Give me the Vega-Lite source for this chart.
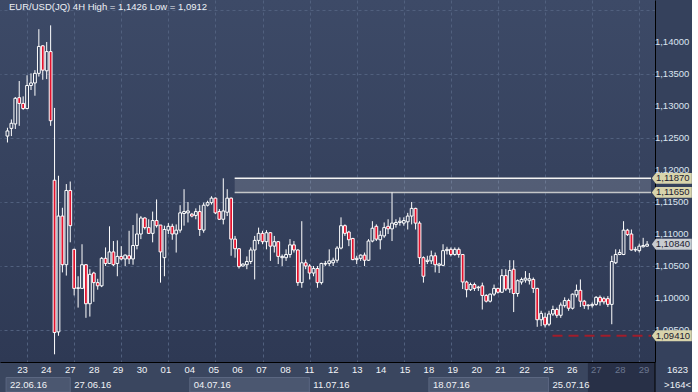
{
"$schema":"https://vega.github.io/schema/vega-lite/v6.json",
"background":"#35415c",
"padding":0,
"spacing":0,
"resolve":{"scale":{"x":"independent","y":"independent"}},
"config":{
  "locale":{"number":{"decimal":",","thousands":".","grouping":[3],"currency":["",""]}},
  "font":"Liberation Sans",
  "view":{"stroke":null},
  "axis":{"labelOverlap":false},
  "text":{"font":"Liberation Sans","fontSize":9.5}
},
"datasets":{
"candles":[
{"i":0,"o":1.1253,"h":1.1266,"l":1.1243,"c":1.1261},
{"i":1,"o":1.1265,"h":1.1279,"l":1.1253,"c":1.1273},
{"i":2,"o":1.1272,"h":1.1314,"l":1.1264,"c":1.1312},
{"i":3,"o":1.1313,"h":1.1339,"l":1.1269,"c":1.1304},
{"i":4,"o":1.1304,"h":1.1315,"l":1.1294,"c":1.1296},
{"i":5,"o":1.1296,"h":1.1348,"l":1.1295,"c":1.1332},
{"i":6,"o":1.1332,"h":1.1351,"l":1.1325,"c":1.1336},
{"i":7,"o":1.1336,"h":1.1356,"l":1.1316,"c":1.1351},
{"i":8,"o":1.1351,"h":1.1420,"l":1.1346,"c":1.1393},
{"i":9,"o":1.1394,"h":1.1395,"l":1.1341,"c":1.1356},
{"i":10,"o":1.1355,"h":1.1400,"l":1.1342,"c":1.1385},
{"i":11,"o":1.1385,"h":1.1426,"l":1.1269,"c":1.1277},
{"i":12,"o":1.1184,"h":1.1297,"l":1.0912,"c":1.0946},
{"i":13,"o":1.0947,"h":1.1191,"l":1.0941,"c":1.1128},
{"i":14,"o":1.1128,"h":1.1141,"l":1.1040,"c":1.1052},
{"i":15,"o":1.1052,"h":1.1178,"l":1.1035,"c":1.1168},
{"i":16,"o":1.1168,"h":1.1182,"l":1.1087,"c":1.1113},
{"i":17,"o":1.1076,"h":1.1077,"l":1.1004,"c":1.1015},
{"i":18,"o":1.1015,"h":1.1034,"l":1.0985,"c":1.1016},
{"i":19,"o":1.1015,"h":1.1084,"l":1.1014,"c":1.1052},
{"i":20,"o":1.1052,"h":1.1053,"l":1.0969,"c":1.0991},
{"i":21,"o":1.0991,"h":1.1045,"l":1.0971,"c":1.1037},
{"i":22,"o":1.1039,"h":1.1041,"l":1.0994,"c":1.1024},
{"i":23,"o":1.1024,"h":1.1030,"l":1.1013,"c":1.1019},
{"i":24,"o":1.1019,"h":1.1064,"l":1.1017,"c":1.1062},
{"i":25,"o":1.1062,"h":1.1079,"l":1.1050,"c":1.1054},
{"i":26,"o":1.1054,"h":1.1112,"l":1.1053,"c":1.1072},
{"i":27,"o":1.1072,"h":1.1089,"l":1.1050,"c":1.1052},
{"i":28,"o":1.1054,"h":1.1090,"l":1.1034,"c":1.1065},
{"i":29,"o":1.1065,"h":1.1081,"l":1.1059,"c":1.1061},
{"i":30,"o":1.1061,"h":1.1068,"l":1.1050,"c":1.1067},
{"i":31,"o":1.1066,"h":1.1105,"l":1.1053,"c":1.1061},
{"i":32,"o":1.1061,"h":1.1114,"l":1.1052,"c":1.1082},
{"i":33,"o":1.1082,"h":1.1132,"l":1.1076,"c":1.1100},
{"i":34,"o":1.1100,"h":1.1128,"l":1.1092,"c":1.1125},
{"i":35,"o":1.1125,"h":1.1126,"l":1.1107,"c":1.1110},
{"i":36,"o":1.1110,"h":1.1123,"l":1.1100,"c":1.1101},
{"i":37,"o":1.1101,"h":1.1135,"l":1.1087,"c":1.1121},
{"i":38,"o":1.1121,"h":1.1154,"l":1.1110,"c":1.1113},
{"i":39,"o":1.1114,"h":1.1114,"l":1.1024,"c":1.1072},
{"i":40,"o":1.1063,"h":1.1113,"l":1.1034,"c":1.1107},
{"i":41,"o":1.1106,"h":1.1117,"l":1.1100,"c":1.1112},
{"i":42,"o":1.1112,"h":1.1116,"l":1.1091,"c":1.1100},
{"i":43,"o":1.1100,"h":1.1115,"l":1.1071,"c":1.1106},
{"i":44,"o":1.1106,"h":1.1145,"l":1.1102,"c":1.1133},
{"i":45,"o":1.1132,"h":1.1170,"l":1.1113,"c":1.1135},
{"i":46,"o":1.1133,"h":1.1150,"l":1.1118,"c":1.1136},
{"i":47,"o":1.1131,"h":1.1133,"l":1.1126,"c":1.1128},
{"i":48,"o":1.1129,"h":1.1140,"l":1.1123,"c":1.1135},
{"i":49,"o":1.1135,"h":1.1145,"l":1.1097,"c":1.1107},
{"i":50,"o":1.1106,"h":1.1149,"l":1.1102,"c":1.1145},
{"i":51,"o":1.1145,"h":1.1152,"l":1.1143,"c":1.1149},
{"i":52,"o":1.1149,"h":1.1159,"l":1.1146,"c":1.1156},
{"i":53,"o":1.1156,"h":1.1157,"l":1.1131,"c":1.1133},
{"i":54,"o":1.1135,"h":1.1139,"l":1.1122,"c":1.1123},
{"i":55,"o":1.1123,"h":1.1187,"l":1.1115,"c":1.1136},
{"i":56,"o":1.1134,"h":1.1170,"l":1.1128,"c":1.1156},
{"i":57,"o":1.1156,"h":1.1157,"l":1.1066,"c":1.1092},
{"i":58,"o":1.1092,"h":1.1097,"l":1.1063,"c":1.1077},
{"i":59,"o":1.1077,"h":1.1078,"l":1.1046,"c":1.1049},
{"i":60,"o":1.1050,"h":1.1054,"l":1.1049,"c":1.1053},
{"i":61,"o":1.1052,"h":1.1065,"l":1.1045,"c":1.1057},
{"i":62,"o":1.1057,"h":1.1079,"l":1.1053,"c":1.1075},
{"i":63,"o":1.1075,"h":1.1097,"l":1.1029,"c":1.1090},
{"i":64,"o":1.1090,"h":1.1110,"l":1.1084,"c":1.1101},
{"i":65,"o":1.1101,"h":1.1105,"l":1.1084,"c":1.1088},
{"i":66,"o":1.1088,"h":1.1106,"l":1.1076,"c":1.1102},
{"i":67,"o":1.1102,"h":1.1103,"l":1.1058,"c":1.1081},
{"i":68,"o":1.1081,"h":1.1097,"l":1.1071,"c":1.1088},
{"i":69,"o":1.1088,"h":1.1089,"l":1.1053,"c":1.1065},
{"i":70,"o":1.1063,"h":1.1068,"l":1.1050,"c":1.1065},
{"i":71,"o":1.1063,"h":1.1076,"l":1.1058,"c":1.1068},
{"i":72,"o":1.1068,"h":1.1092,"l":1.1063,"c":1.1083},
{"i":73,"o":1.1083,"h":1.1089,"l":1.1071,"c":1.1075},
{"i":74,"o":1.1075,"h":1.1076,"l":1.1019,"c":1.1024},
{"i":75,"o":1.1024,"h":1.1120,"l":1.1016,"c":1.1055},
{"i":76,"o":1.1055,"h":1.1060,"l":1.1045,"c":1.1050},
{"i":77,"o":1.1050,"h":1.1053,"l":1.1029,"c":1.1039},
{"i":78,"o":1.1039,"h":1.1050,"l":1.1034,"c":1.1046},
{"i":79,"o":1.1046,"h":1.1050,"l":1.1016,"c":1.1024},
{"i":80,"o":1.1024,"h":1.1055,"l":1.1021,"c":1.1054},
{"i":81,"o":1.1053,"h":1.1058,"l":1.1050,"c":1.1054},
{"i":82,"o":1.1054,"h":1.1076,"l":1.1050,"c":1.1058},
{"i":83,"o":1.1055,"h":1.1063,"l":1.1050,"c":1.1059},
{"i":84,"o":1.1059,"h":1.1081,"l":1.1055,"c":1.1078},
{"i":85,"o":1.1078,"h":1.1126,"l":1.1076,"c":1.1113},
{"i":86,"o":1.1113,"h":1.1115,"l":1.1097,"c":1.1101},
{"i":87,"o":1.1103,"h":1.1105,"l":1.1081,"c":1.1091},
{"i":88,"o":1.1093,"h":1.1094,"l":1.1059,"c":1.1060},
{"i":89,"o":1.1060,"h":1.1066,"l":1.1053,"c":1.1062},
{"i":90,"o":1.1062,"h":1.1068,"l":1.1058,"c":1.1067},
{"i":91,"o":1.1067,"h":1.1071,"l":1.1050,"c":1.1059},
{"i":92,"o":1.1059,"h":1.1092,"l":1.1058,"c":1.1089},
{"i":93,"o":1.1089,"h":1.1120,"l":1.1087,"c":1.1109},
{"i":94,"o":1.1112,"h":1.1115,"l":1.1089,"c":1.1092},
{"i":95,"o":1.1091,"h":1.1105,"l":1.1076,"c":1.1098},
{"i":96,"o":1.1097,"h":1.1118,"l":1.1094,"c":1.1110},
{"i":97,"o":1.1112,"h":1.1123,"l":1.1100,"c":1.1108},
{"i":98,"o":1.1108,"h":1.1165,"l":1.1089,"c":1.1117},
{"i":99,"o":1.1115,"h":1.1123,"l":1.1110,"c":1.1118},
{"i":100,"o":1.1118,"h":1.1126,"l":1.1113,"c":1.1120},
{"i":101,"o":1.1117,"h":1.1126,"l":1.1113,"c":1.1121},
{"i":102,"o":1.1119,"h":1.1133,"l":1.1107,"c":1.1128},
{"i":103,"o":1.1128,"h":1.1150,"l":1.1115,"c":1.1140},
{"i":104,"o":1.1140,"h":1.1141,"l":1.1107,"c":1.1117},
{"i":105,"o":1.1117,"h":1.1120,"l":1.1053,"c":1.1063},
{"i":106,"o":1.1063,"h":1.1065,"l":1.1024,"c":1.1034},
{"i":107,"o":1.1057,"h":1.1066,"l":1.1053,"c":1.1059},
{"i":108,"o":1.1058,"h":1.1074,"l":1.1053,"c":1.1066},
{"i":109,"o":1.1066,"h":1.1071,"l":1.1040,"c":1.1052},
{"i":110,"o":1.1051,"h":1.1055,"l":1.1039,"c":1.1053},
{"i":111,"o":1.1051,"h":1.1084,"l":1.1050,"c":1.1074},
{"i":112,"o":1.1074,"h":1.1080,"l":1.1068,"c":1.1076},
{"i":113,"o":1.1076,"h":1.1079,"l":1.1065,"c":1.1068},
{"i":114,"o":1.1068,"h":1.1079,"l":1.1066,"c":1.1076},
{"i":115,"o":1.1076,"h":1.1079,"l":1.1063,"c":1.1068},
{"i":116,"o":1.1068,"h":1.1068,"l":1.1014,"c":1.1025},
{"i":117,"o":1.1025,"h":1.1027,"l":1.1001,"c":1.1013},
{"i":118,"o":1.1013,"h":1.1024,"l":1.1011,"c":1.1021},
{"i":119,"o":1.1021,"h":1.1024,"l":1.1011,"c":1.1015},
{"i":120,"o":1.1016,"h":1.1019,"l":1.1011,"c":1.1017},
{"i":121,"o":1.1019,"h":1.1024,"l":1.0982,"c":1.1004},
{"i":122,"o":1.1004,"h":1.1006,"l":1.0993,"c":1.0995},
{"i":123,"o":1.0995,"h":1.1007,"l":1.0993,"c":1.1006},
{"i":124,"o":1.1006,"h":1.1021,"l":1.1003,"c":1.1015},
{"i":125,"o":1.1015,"h":1.1016,"l":1.1007,"c":1.1009},
{"i":126,"o":1.1009,"h":1.1045,"l":1.1008,"c":1.1035},
{"i":127,"o":1.1035,"h":1.1045,"l":1.1011,"c":1.1014},
{"i":128,"o":1.1014,"h":1.1059,"l":1.1008,"c":1.1043},
{"i":129,"o":1.1045,"h":1.1059,"l":1.0978,"c":1.1007},
{"i":130,"o":1.1007,"h":1.1029,"l":1.1002,"c":1.1027},
{"i":131,"o":1.1025,"h":1.1032,"l":1.1021,"c":1.1029},
{"i":132,"o":1.1028,"h":1.1042,"l":1.1024,"c":1.1031},
{"i":133,"o":1.1027,"h":1.1039,"l":1.1021,"c":1.1030},
{"i":134,"o":1.1029,"h":1.1032,"l":1.1008,"c":1.1015},
{"i":135,"o":1.1015,"h":1.1016,"l":1.0955,"c":1.0966},
{"i":136,"o":1.0966,"h":1.0980,"l":1.0956,"c":1.0976},
{"i":137,"o":1.0970,"h":1.0977,"l":1.0954,"c":1.0958},
{"i":138,"o":1.0959,"h":1.0980,"l":1.0956,"c":1.0975},
{"i":139,"o":1.0975,"h":1.0988,"l":1.0972,"c":1.0982},
{"i":140,"o":1.0982,"h":1.0985,"l":1.0969,"c":1.0973},
{"i":141,"o":1.0973,"h":1.0993,"l":1.0969,"c":1.0989},
{"i":142,"o":1.0988,"h":1.1001,"l":1.0985,"c":1.0996},
{"i":143,"o":1.0996,"h":1.0999,"l":1.0980,"c":1.0984},
{"i":144,"o":1.0984,"h":1.1007,"l":1.0982,"c":1.1006},
{"i":145,"o":1.1005,"h":1.1021,"l":1.1001,"c":1.1012},
{"i":146,"o":1.1012,"h":1.1029,"l":1.0986,"c":1.0995},
{"i":147,"o":1.0995,"h":1.0997,"l":1.0983,"c":1.0988},
{"i":148,"o":1.0989,"h":1.0990,"l":1.0982,"c":1.0988},
{"i":149,"o":1.0988,"h":1.0993,"l":1.0985,"c":1.0990},
{"i":150,"o":1.0990,"h":1.1003,"l":1.0988,"c":1.1001},
{"i":151,"o":1.1001,"h":1.1004,"l":1.0988,"c":1.0994},
{"i":152,"o":1.0999,"h":1.1002,"l":1.0990,"c":1.0994},
{"i":153,"o":1.0999,"h":1.1003,"l":1.0986,"c":1.0990},
{"i":154,"o":1.0990,"h":1.1066,"l":1.0959,"c":1.1057},
{"i":155,"o":1.1055,"h":1.1076,"l":1.1053,"c":1.1068},
{"i":156,"o":1.1068,"h":1.1076,"l":1.1067,"c":1.1071},
{"i":157,"o":1.1068,"h":1.1120,"l":1.1067,"c":1.1106},
{"i":158,"o":1.1106,"h":1.1108,"l":1.1097,"c":1.1099},
{"i":159,"o":1.1100,"h":1.1107,"l":1.1074,"c":1.1075},
{"i":160,"o":1.1075,"h":1.1080,"l":1.1072,"c":1.1076},
{"i":161,"o":1.1074,"h":1.1085,"l":1.1071,"c":1.1081},
{"i":162,"o":1.1080,"h":1.1094,"l":1.1079,"c":1.1082},
{"i":163,"o":1.1081,"h":1.1089,"l":1.1080,"c":1.1084}
],
"zone":[{"lo":1.1165,"hi":1.1187,"start":57.9,"end":164}],
"lines":[
{"kind":"top","price":1.1187,"start":57.9,"end":164},
{"kind":"bottom","price":1.1165,"start":57.9,"end":164},
{"kind":"support","price":1.0941,"start":138.9,"end":164}
],
"tags":[
{"kind":"level","price":1.1187},
{"kind":"level","price":1.1165},
{"kind":"last","price":1.1084},
{"kind":"level","price":1.0941}
],
"ylabels":[{"p":1.14},{"p":1.135},{"p":1.13},{"p":1.125},{"p":1.12},{"p":1.115},{"p":1.11},{"p":1.105},{"p":1.1},{"p":1.095}],
"days":[{"i":5,"d":"23"},{"i":11,"d":"24"},{"i":17,"d":"27"},{"i":23,"d":"28"},{"i":29,"d":"29"},{"i":35,"d":"30"},{"i":41,"d":"01"},{"i":47,"d":"04"},{"i":53,"d":"05"},{"i":59,"d":"06"},{"i":65,"d":"07"},{"i":71,"d":"08"},{"i":77,"d":"11"},{"i":83,"d":"12"},{"i":89,"d":"13"},{"i":95,"d":"14"},{"i":101,"d":"15"},{"i":107,"d":"18"},{"i":113,"d":"19"},{"i":119,"d":"20"},{"i":125,"d":"21"},{"i":131,"d":"22"},{"i":137,"d":"25"},{"i":143,"d":"26"},{"i":149,"d":"27"},{"i":155,"d":"28"},{"i":161,"d":"29"}],
"weeks":[
{"w":"22.06.16","s":0.9,"e":17},
{"w":"27.06.16","s":17,"e":47},
{"w":"04.07.16","s":47,"e":77},
{"w":"11.07.16","s":77,"e":107},
{"w":"18.07.16","s":107,"e":137},
{"w":"25.07.16","s":137,"e":147}
],
"future":[{"s":146.9,"e":163.74}],
"bars_shown":[{"t":"1623"}],
"bars_total":[{"t":">164<"}]
},
"vconcat":[
{
 "width":655,"height":362,
 "view":{"stroke":null,"fill":{"gradient":"linear","x1":0,"y1":0,"x2":0,"y2":1,"stops":[{"offset":0,"color":"#3d4a67"},{"offset":1,"color":"#2e3954"}]}},
 "layer":[
  {"data":{"name":"zone"},
   "mark":{"type":"rect","fill":"#ffffff","opacity":0.15,"clip":true},
   "encoding":{
    "x":{"field":"start","type":"quantitative","scale":{"domain":[-0.627,163.74],"nice":false,"zero":false},
         "axis":{"title":null,"orient":"bottom","values":[5,11,17,23,29,35,41,47,53,59,65,71,77,83,89,95,101,107,113,119,125,131,137,143,149,155,161],"labels":false,"ticks":false,"domain":true,"domainColor":"#000000","domainWidth":1,"grid":true,"gridColor":"#51607e","gridDash":[3,3],"gridWidth":1}},
    "x2":{"field":"end"},
    "y":{"field":"lo","type":"quantitative","scale":{"domain":[1.09,1.14656],"nice":false,"zero":false},
         "axis":{"title":null,"orient":"right","values":[1.095,1.1,1.105,1.11,1.115,1.12,1.125,1.13,1.135,1.14,1.145],"labels":false,"ticks":false,"domain":true,"domainColor":"#000000","domainWidth":1,"grid":true,"gridColor":"#51607e","gridDash":[3,3],"gridWidth":1}},
    "y2":{"field":"hi"}
   }},
  {"data":{"name":"ylabels"},
   "mark":{"type":"text","align":"left","baseline":"middle","fontSize":9.5,"color":"#dce4f0","clip":false},
   "encoding":{"x":{"datum":165.0,"type":"quantitative"},"y":{"field":"p","type":"quantitative"},"text":{"field":"p","type":"quantitative","format":".5f"}}},
  {"data":{"name":"lines"},"transform":[{"filter":"datum.kind != 'support'"}],
   "mark":{"type":"rule","strokeWidth":1.5,"clip":true},
   "encoding":{"x":{"field":"start","type":"quantitative"},"x2":{"field":"end"},"y":{"field":"price","type":"quantitative"},
    "color":{"condition":{"test":"datum.kind == 'top'","value":"#f4f4f4"},"value":"#c4c6c8"}}},
  {"data":{"name":"lines"},"transform":[{"filter":"datum.kind == 'support'"}],
   "mark":{"type":"rule","strokeWidth":2,"strokeDash":[10,6],"color":"#a11d2b","clip":true},
   "encoding":{"x":{"field":"start","type":"quantitative"},"x2":{"field":"end"},"y":{"field":"price","type":"quantitative"}}},
  {"data":{"name":"candles"},
   "mark":{"type":"rule","color":"#ffffff","strokeWidth":1,"clip":true},
   "encoding":{"x":{"field":"i","type":"quantitative"},"y":{"field":"l","type":"quantitative"},"y2":{"field":"h"}}},
  {"data":{"name":"candles"},
   "mark":{"type":"bar","size":2.8,"stroke":"#ffffff","strokeWidth":1,"clip":true},
   "encoding":{"x":{"field":"i","type":"quantitative"},"y":{"field":"o","type":"quantitative"},"y2":{"field":"c"},
    "fill":{"condition":{"test":"datum.c < datum.o","value":"#e3122d"},"value":"#34405c"}}},
  {"data":{"name":"tags"},
   "mark":{"type":"point","shape":"M -1 0 L -0.8 -0.27 L 1 -0.27 L 1 0.27 L -0.8 0.27 Z","size":1600,"filled":true,"opacity":1,"strokeWidth":0,"clip":false},
   "encoding":{"x":{"datum":169.3,"type":"quantitative"},"y":{"field":"price","type":"quantitative"},
    "fill":{"condition":{"test":"datum.kind == 'last'","value":"#c9ccd1"},"value":"#d8d4ac"}}},
  {"data":{"name":"tags"},
   "mark":{"type":"text","color":"#1b2030","fontSize":9.5,"align":"center","baseline":"middle","dx":1,"clip":false},
   "encoding":{"x":{"datum":169.3,"type":"quantitative"},"y":{"field":"price","type":"quantitative"},"text":{"field":"price","type":"quantitative","format":".5f"}}},
  {"data":{"values":[{"t":"EUR/USD(JQ) 4H High = 1,1426 Low = 1,0912"}]},
   "mark":{"type":"text","align":"left","baseline":"middle","dx":4,"color":"#eef1f6","fontSize":9.5},
   "encoding":{"x":{"datum":-0.627,"type":"quantitative"},"y":{"datum":1.1454,"type":"quantitative"},"text":{"field":"t"}}}
 ]
},
{
 "width":655,"height":29,
 "view":{"stroke":null,"fill":"#3a465f"},
 "layer":[
  {"data":{"name":"weeks"},"transform":[{"filter":"indexof(['22.06.16','04.07.16','18.07.16'], datum.w) >= 0"}],
   "mark":{"type":"rect","fill":"#4b5770","stroke":"#5b6781","strokeWidth":1},
   "encoding":{"x":{"field":"s","type":"quantitative","scale":{"domain":[-0.627,163.74],"nice":false,"zero":false},"axis":null},"x2":{"field":"e"},
    "y":{"datum":"week","type":"nominal","scale":{"domain":["day","week"],"paddingInner":0,"paddingOuter":0},"axis":null}}},
  {"data":{"name":"future"},
   "mark":{"type":"rect","fill":"#283047"},
   "encoding":{"x":{"field":"s","type":"quantitative"},"x2":{"field":"e"}}},
  {"data":{"name":"days"},
   "mark":{"type":"text","baseline":"middle","align":"center","fontSize":9.5},
   "encoding":{"x":{"field":"i","type":"quantitative"},"y":{"datum":"day","type":"nominal"},"text":{"field":"d"},
    "color":{"condition":{"test":"datum.i >= 149","value":"#6c7790"},"value":"#f2f4f8"}}},
  {"data":{"name":"weeks"},
   "mark":{"type":"text","align":"left","dx":4,"baseline":"middle","fontSize":9.5,"color":"#f0f2f6"},
   "encoding":{"x":{"field":"s","type":"quantitative"},"y":{"datum":"week","type":"nominal"},"text":{"field":"w"}}},
  {"data":{"name":"bars_shown"},
   "mark":{"type":"text","align":"center","baseline":"middle","fontSize":9.5,"color":"#eef1f6","clip":false},
   "encoding":{"x":{"datum":169.4,"type":"quantitative"},"y":{"datum":"day","type":"nominal"},"text":{"field":"t"}}},
  {"data":{"name":"bars_total"},
   "mark":{"type":"text","align":"center","baseline":"middle","fontSize":9.5,"color":"#eef1f6","clip":false},
   "encoding":{"x":{"datum":169.4,"type":"quantitative"},"y":{"datum":"week","type":"nominal"},"text":{"field":"t"}}},
  {"data":{"values":[{}]},
   "mark":{"type":"rule","color":"#000000","strokeWidth":1},
   "encoding":{"x":{"datum":163.74,"type":"quantitative"}}}
 ]
}
]
}
